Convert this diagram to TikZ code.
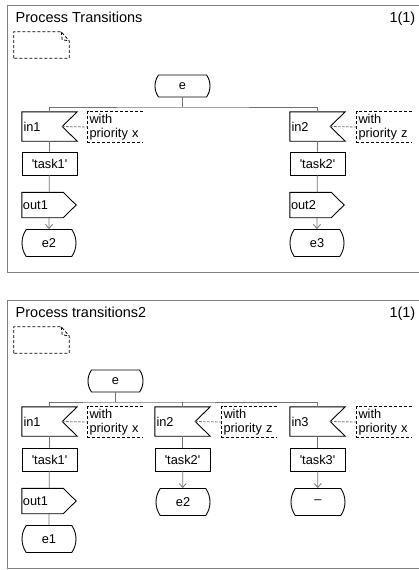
\documentclass[tikz,border=0pt]{standalone}
\usepackage{fontspec}
\setmainfont{Liberation Sans}
\usetikzlibrary{shapes.misc,arrows.meta}

\begin{document}
\begin{tikzpicture}[x=1pt,y=-1pt,
                sdl/.style={line width=0.9pt,draw=black},
                conn/.style={line width=0.8pt,draw=black!55},
                remlink/.style={line width=0.8pt,draw=black!55,dash pattern=on 2.5pt off 1.5pt},
                flowarrow/.style={conn,-{Straight Barb[length=4pt,width=7pt]}},
                frameline/.style={line width=1pt,draw=black!50},
                heading/.style={font=\fontsize{14.5}{16}\selectfont,inner sep=0pt},
                small/.style={font=\fontsize{12.8}{14}\selectfont},
                sdlstate/.style={rounded rectangle,rounded rectangle arc length=70,sdl,small,minimum width=54,minimum height=27,inner sep=0pt},
                task/.style={rectangle,sdl,small,minimum width=55,minimum height=23,inner sep=0pt},
                inbox/.style={rectangle,small,minimum height=29,inner xsep=1.5,inner ysep=0,text width=52,align=left,
                    append after command={\pgfextra{\draw[sdl] (\tikzlastnode.north west) -- (\tikzlastnode.north east) -- ([xshift=-15pt]\tikzlastnode.east) -- (\tikzlastnode.south east) -- (\tikzlastnode.south west) -- cycle;}}},
                outbox/.style={rectangle,small,minimum height=25,inner xsep=1,inner ysep=0,text width=52,align=left,
                    append after command={\pgfextra{\draw[sdl] (\tikzlastnode.north west) -- ([xshift=-13pt]\tikzlastnode.north east) -- (\tikzlastnode.east) -- ([xshift=-13pt]\tikzlastnode.south east) -- (\tikzlastnode.south west) -- cycle;}}},
                remark/.style={rectangle,small,minimum height=30,inner xsep=1.5,inner ysep=0,text width=52,align=left,
                    append after command={\pgfextra{\draw[line width=0.8pt,dash pattern=on 3pt off 2pt] (\tikzlastnode.north east) -- (\tikzlastnode.north west) -- (\tikzlastnode.south west) -- (\tikzlastnode.south east);}}},
                memo/.style={rectangle,minimum width=55,minimum height=26,inner sep=0pt,
                    append after command={\pgfextra{\draw[line width=0.8pt,dash pattern=on 3pt off 2pt] (\tikzlastnode.south west) -- (\tikzlastnode.north west) -- ([xshift=-8pt]\tikzlastnode.north east) -- ([yshift=-9pt]\tikzlastnode.north east) -- (\tikzlastnode.south east) -- cycle ([xshift=-8pt]\tikzlastnode.north east) -- ([xshift=-7pt,yshift=-8pt]\tikzlastnode.north east) -- ([yshift=-9pt]\tikzlastnode.north east);}}}]
                \useasboundingbox (0,0) rectangle (419,570);
                \draw[frameline] (420,5) -- (7.5,5) -- (7.5,272.5) -- (420,272.5);
                \node[heading,anchor=base west] (p1title) at (15.5,22.5) {Process Transitions};
                \node[heading,anchor=base east] (p1page) at (415.5,22.5) {1(1)};
                \node[memo] (p1memo) at (41.5,45) {};
                \node[sdlstate,minimum width=55,minimum height=22] (p1e) at (182.5,86) {e};
                \coordinate (p1fork) at (182.5,107);
                \node[inbox] (p1in1) at (49.5,126.5) {in1};
                \node[remark] (p1rem1) at (115.5,127) {with\\priority x};
                \node[inbox] (p1in2) at (317.5,126.5) {in2};
                \node[remark] (p1rem2) at (384.5,127) {with\\priority z};
                \node[task] (p1task1) at (49.5,163.5) {\textquotesingle task1\textquotesingle};
                \node[task] (p1task2) at (317.5,163.5) {\textquotesingle task2\textquotesingle};
                \node[outbox] (p1out1) at (49,205) {out1};
                \node[outbox] (p1out2) at (317,205) {out2};
                \node[sdlstate] (p1e2) at (49,243) {e2};
                \node[sdlstate] (p1e3) at (317,243) {e3};
                \draw[conn] (p1e.south) -- (p1fork);
                \draw[conn] (p1in1.north) |- (p1fork) -| (p1in2.north);
                \draw[remlink] ([xshift=-15pt]p1in1.east) -- (p1rem1.west);
                \draw[remlink] ([xshift=-15pt]p1in2.east) -- (p1rem2.west);
                \draw[conn] (p1in1) -- (p1task1) -- (p1out1);
                \draw[conn] (p1in2) -- (p1task2) -- (p1out2);
                \draw[flowarrow] (p1out1) -- (p1e2);
                \draw[flowarrow] (p1out2) -- (p1e3);
                \draw[frameline] (420,300) -- (7.5,300) -- (7.5,568.5) -- (420,568.5);
                \node[heading,anchor=base west] (p2title) at (15.5,317.5) {Process transitions2};
                \node[heading,anchor=base east] (p2page) at (415.5,317.5) {1(1)};
                \node[memo] (p2memo) at (41.5,340) {};
                \node[sdlstate,minimum width=55,minimum height=22] (p2e) at (115.5,381) {e};
                \coordinate (p2fork) at (115.5,402);
                \node[inbox] (p2in1) at (49.5,421.5) {in1};
                \node[remark] (p2rem1) at (115.5,422) {with\\priority x};
                \node[inbox] (p2in2) at (182.5,421.5) {in2};
                \node[remark] (p2rem2) at (249.5,422) {with\\priority z};
                \node[inbox] (p2in3) at (317.5,421.5) {in3};
                \node[remark] (p2rem3) at (384.5,422) {with\\priority x};
                \node[task] (p2task1) at (49.5,459.5) {\textquotesingle task1\textquotesingle};
                \node[task] (p2task2) at (182.5,459.5) {\textquotesingle task2\textquotesingle};
                \node[task] (p2task3) at (317.5,459.5) {\textquotesingle task3\textquotesingle};
                \node[outbox] (p2out1) at (49,501) {out1};
                \node[sdlstate] (p2e2) at (183,502) {e2};
                \node[sdlstate] (p2dash) at (318,502) {--};
                \node[sdlstate] (p2e1) at (49,539) {e1};
                \draw[conn] (p2e.south) -- (p2fork);
                \draw[conn] (p2in1.north) |- (p2fork) -| (p2in3.north);
                \draw[conn] (p2in2.north) -- (p2in2.north |- p2fork);
                \draw[remlink] ([xshift=-15pt]p2in1.east) -- (p2rem1.west);
                \draw[remlink] ([xshift=-15pt]p2in2.east) -- (p2rem2.west);
                \draw[remlink] ([xshift=-15pt]p2in3.east) -- (p2rem3.west);
                \draw[conn] (p2in1) -- (p2task1) -- (p2out1) -- (p2e1);
                \draw[conn] (p2in2) -- (p2task2);
                \draw[conn] (p2in3) -- (p2task3);
                \draw[flowarrow] (p2task2) -- (p2e2);
                \draw[flowarrow] (p2task3) -- (p2dash);
\end{tikzpicture}
\end{document}
